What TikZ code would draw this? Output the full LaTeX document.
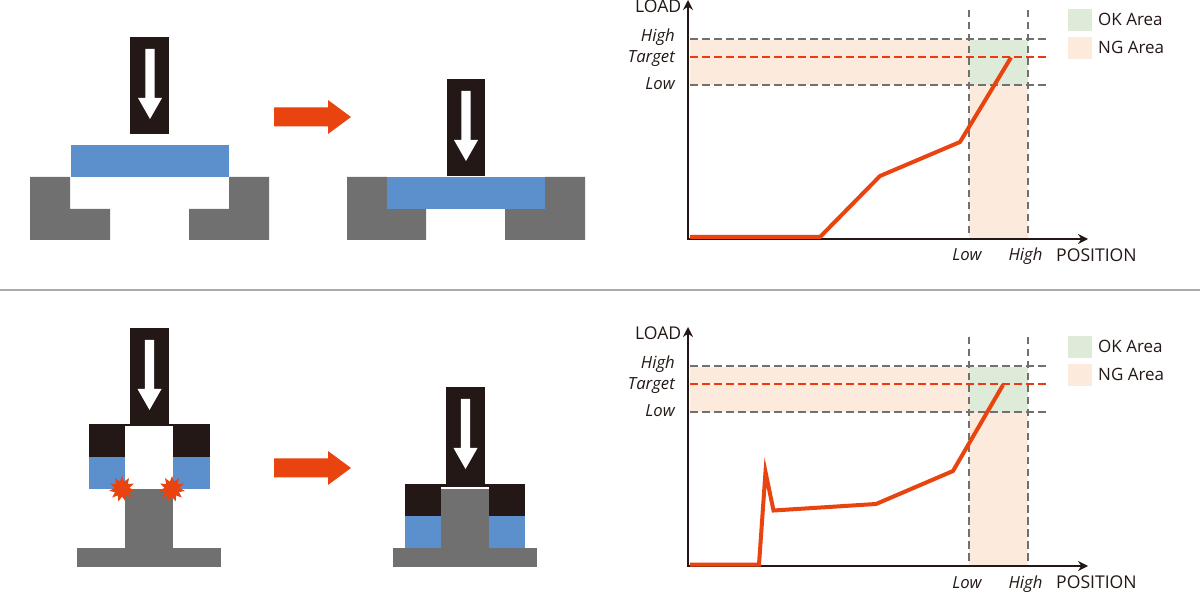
\documentclass[tikz,border=0pt]{standalone}
\usepackage{fontspec}
\setmainfont{Open Sans}
\usetikzlibrary{arrows.meta,shapes.geometric}
\definecolor{pressblack}{HTML}{231815}
\definecolor{partblue}{HTML}{5B90CD}
\definecolor{partgray}{HTML}{717071}
\definecolor{hotorange}{HTML}{E9430F}
\definecolor{targetred}{HTML}{EA3A14}
\definecolor{okgreen}{HTML}{DFEBD9}
\definecolor{ngbeige}{HTML}{FCEBDC}
\definecolor{rulegray}{HTML}{ABABAB}
\newcommand{\pressarrow}[2]{% centre x, top of the shaft
	\fill[white] (#1-4.7,#2) -- (#1+4.7,#2) -- (#1+4.7,#2+49) -- (#1+12,#2+49) -- (#1,#2+70) -- (#1-12,#2+49) -- (#1-4.7,#2+49) -- cycle;}
\newcommand{\bigarrow}[1]{% centre y
	\fill[hotorange] (274,#1-9.5) -- (328,#1-9.5) -- (328,#1-17) -- (351,#1) -- (328,#1+17) -- (328,#1+9.5) -- (274,#1+9.5) -- cycle;}
\begin{document}
\begin{tikzpicture}[x=1pt,y=-1pt,
	axis/.style={pressblack,line width=2.8pt,-{Stealth[length=10pt,width=10pt]}},
	guide/.style={partgray,line width=2pt,dash pattern=on 7.5pt off 4.5pt},
	targetline/.style={targetred,line width=2pt,dash pattern=on 7.5pt off 4.5pt},
	curve/.style={hotorange,line width=4pt,miter limit=20},
	lbl/.style={inner sep=0pt,font=\fontsize{17.6}{20}\selectfont,text=pressblack},
	legend/.style={lbl,font=\fontsize{17}{20}\selectfont},
	ital/.style={lbl,font=\fontsize{16.7}{20}\selectfont\itshape},
	burst/.style={star,star points=11,star point ratio=1.7,fill=hotorange,inner sep=0pt,minimum size=26pt}]
	\useasboundingbox (0,0) rectangle (1200,593);
	\fill[white] (0,0) rectangle (1200,593);
	% top left, before
	\fill[partgray] (30,177) -- (70,177) -- (70,209) -- (110,209) -- (110,240) -- (30,240) -- cycle;
	\fill[partgray] (269,177) -- (229,177) -- (229,209) -- (189,209) -- (189,240) -- (269,240) -- cycle;
	\fill[partblue] (71,145) rectangle (229,177);
	\fill[pressblack] (130,37) rectangle (169,134);
	\pressarrow{150}{49}
	\bigarrow{117}
	% top left, after
	\fill[partgray] (347,177) -- (387,177) -- (387,209) -- (426,209) -- (426,240) -- (347,240) -- cycle;
	\fill[partgray] (585,177) -- (545,177) -- (545,209) -- (505,209) -- (505,240) -- (585,240) -- cycle;
	\fill[partblue] (387,177) rectangle (545,209);
	\fill[pressblack] (447,79) rectangle (485,176.5);
	\pressarrow{466}{91}
	\draw[rulegray,line width=2pt] (0,290) -- (1200,290);
	% bottom left, before
	\fill[partgray] (77,548) rectangle (221,567);
	\fill[partgray] (125,489) rectangle (173,548);
	\fill[partblue] (89,457) rectangle (125,489);
	\fill[partblue] (173,457) rectangle (210,489);
	\fill[pressblack] (89,424) rectangle (125,457);
	\fill[pressblack] (173,424) rectangle (210,457);
	\fill[pressblack] (89,424) rectangle (210,426.5);
	\fill[pressblack] (130,328) rectangle (169,425);
	\pressarrow{149.5}{340}
	\node[burst] (burstL) at (122,489) {};
	\node[burst] (burstR) at (172,489) {};
	\bigarrow{468}
	% bottom left, after
	\fill[partgray] (393,548) rectangle (537,567);
	\fill[partgray] (441,489.5) rectangle (489,548);
	\fill[partblue] (405,516) rectangle (441,548);
	\fill[partblue] (489,516) rectangle (525,548);
	\fill[pressblack] (405,484) rectangle (441,516);
	\fill[pressblack] (489,484) rectangle (525,516);
	\fill[pressblack] (441,484) rectangle (489,487);
	\fill[pressblack] (446,387) rectangle (485,485);
	\pressarrow{465.5}{399}
	% both graphs
	\foreach \oy/\nm in {0/top,327/bot}
	{
	\begin{scope}[yshift=-\oy pt]
		\fill[ngbeige] (690,40) rectangle (969,85);
		\fill[ngbeige] (969,85) rectangle (1028,238);
		\fill[okgreen] (969,40) rectangle (1028,85);
		\draw[guide] (690,39.5) -- (1048,39.5);
		\draw[guide] (690,85) -- (1048,85);
		\draw[targetline] (690,57.5) -- (1048,57.5);
		\draw[guide] (969,10) -- (969,238);
		\draw[guide] (1028,10) -- (1028,238);
		\draw[axis] (688,240) -- (688,0);
		\draw[axis] (687,239) -- (1088,239);
		\fill[okgreen] (1068,9) rectangle (1092,31);
		\fill[ngbeige] (1068,37) rectangle (1092,59);
		\node[legend,anchor=base west] (ok\nm) at (1098,26) {OK Area};
		\node[legend,anchor=base west] (ng\nm) at (1098,54) {NG Area};
		\node[lbl,anchor=base east] (load\nm) at (681.5,13) {LOAD};
		\node[ital,anchor=base east] (high\nm) at (675,42) {High};
		\node[ital,anchor=base east] (target\nm) at (675,62.5) {Target};
		\node[ital,anchor=base east] (low\nm) at (675,89.5) {Low};
		\node[ital,anchor=base] (xlow\nm) at (967,261) {Low};
		\node[ital,anchor=base] (xhigh\nm) at (1025.5,261) {High};
		\node[lbl,anchor=base west] (pos\nm) at (1056,261.5) {POSITION};
	\end{scope}
	}
	% load curves
	\draw[curve] (690,237) -- (820,237) -- (880,176) -- (960,142) -- (1011,57.5);
	\draw[curve] (690,564.5) -- (759,564.5) -- (765.5,472) -- (773.5,510.5) -- (876,504) -- (953,471) -- (1003,385);
\end{tikzpicture}
\end{document}
